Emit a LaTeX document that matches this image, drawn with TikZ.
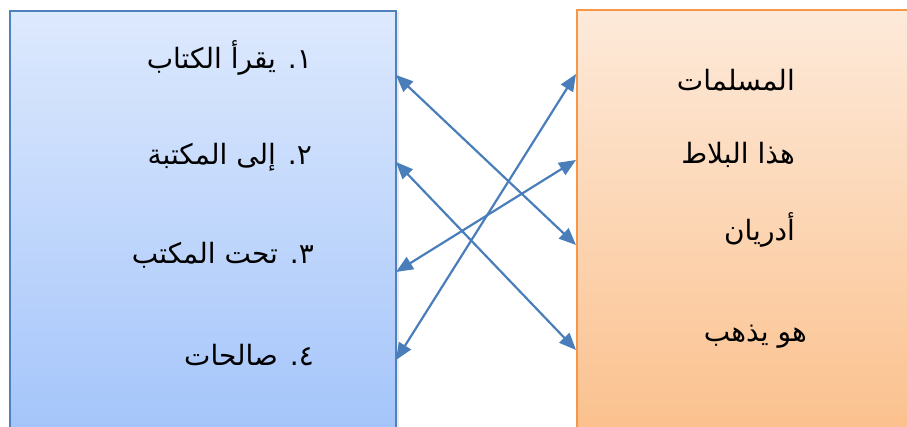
\documentclass[tikz,border=0pt]{standalone}
\usepackage{fontspec}
\newfontfamily\arabicfont[Script=Arabic]{DejaVu Sans}
\TeXXeTstate=1
\usetikzlibrary{arrows.meta,shadows}
\definecolor{lbtop}{RGB}{221,233,253}
\definecolor{lbbot}{RGB}{163,196,250}
\definecolor{lbline}{RGB}{79,129,189}
\definecolor{rbtop}{RGB}{253,234,218}
\definecolor{rbbot}{RGB}{251,192,140}
\definecolor{rbline}{RGB}{247,150,70}
\definecolor{arrowc}{RGB}{74,126,187}
\tikzset{
  boxshadow/.style={drop shadow={opacity=0.18, shadow xshift=2.5pt, shadow yshift=-1.5pt}},
  lboxst/.style={draw=lbline, line width=2pt, top color=lbtop, bottom color=lbbot, anchor=north west, inner sep=0pt, boxshadow},
  rboxst/.style={draw=rbline, line width=2pt, top color=rbtop, bottom color=rbbot, anchor=north west, inner sep=0pt, boxshadow},
  lbl/.style={anchor=east, inner sep=0pt, font=\arabicfont\fontsize{28}{33}\selectfont},
  conn/.style={draw=arrowc, line width=2.2pt, {Triangle[length=17pt,width=14pt]}-{Triangle[length=17pt,width=14pt]}}
}
\begin{document}
\begin{tikzpicture}[x=1pt,y=-1pt]
\useasboundingbox (0,0) rectangle (907,427);
\begin{scope}
\clip (0,0) rectangle (907,427);
\node[lboxst, minimum width=386pt, minimum height=430pt] (lbox) at (9,10) {};
\node[rboxst, minimum width=340pt, minimum height=430pt] (rbox) at (576,9) {};
\end{scope}
\node[lbl] (t1) at (312,58) {\beginR ١. يقرأ الكتاب\endR};
\node[lbl] (t2) at (312,157) {\beginR ٢. إلى المكتبة\endR};
\node[lbl] (t3) at (314,255) {\beginR ٣. تحت المكتب\endR};
\node[lbl] (t4) at (314,355) {\beginR ٤. صالحات\endR};
\node[lbl] (s1) at (795,80) {\beginR المسلمات\endR};
\node[lbl] (s2) at (795,155) {\beginR هذا البلاط\endR};
\node[lbl] (s3) at (795,230) {\beginR أدريان\endR};
\node[lbl] (s4) at (807,337) {\beginR هو يذهب\endR};
\coordinate (la) at (396,75);
\coordinate (lb) at (396,162);
\coordinate (lc) at (396,272);
\coordinate (ld) at (396,360);
\coordinate (ra) at (576,74);
\coordinate (rb) at (576,160);
\coordinate (rc) at (576,245);
\coordinate (rd) at (576,350);
\draw[conn] (la) -- (rc);
\draw[conn] (lb) -- (rd);
\draw[conn] (lc) -- (rb);
\draw[conn] (ld) -- (ra);
\end{tikzpicture}
\end{document}
